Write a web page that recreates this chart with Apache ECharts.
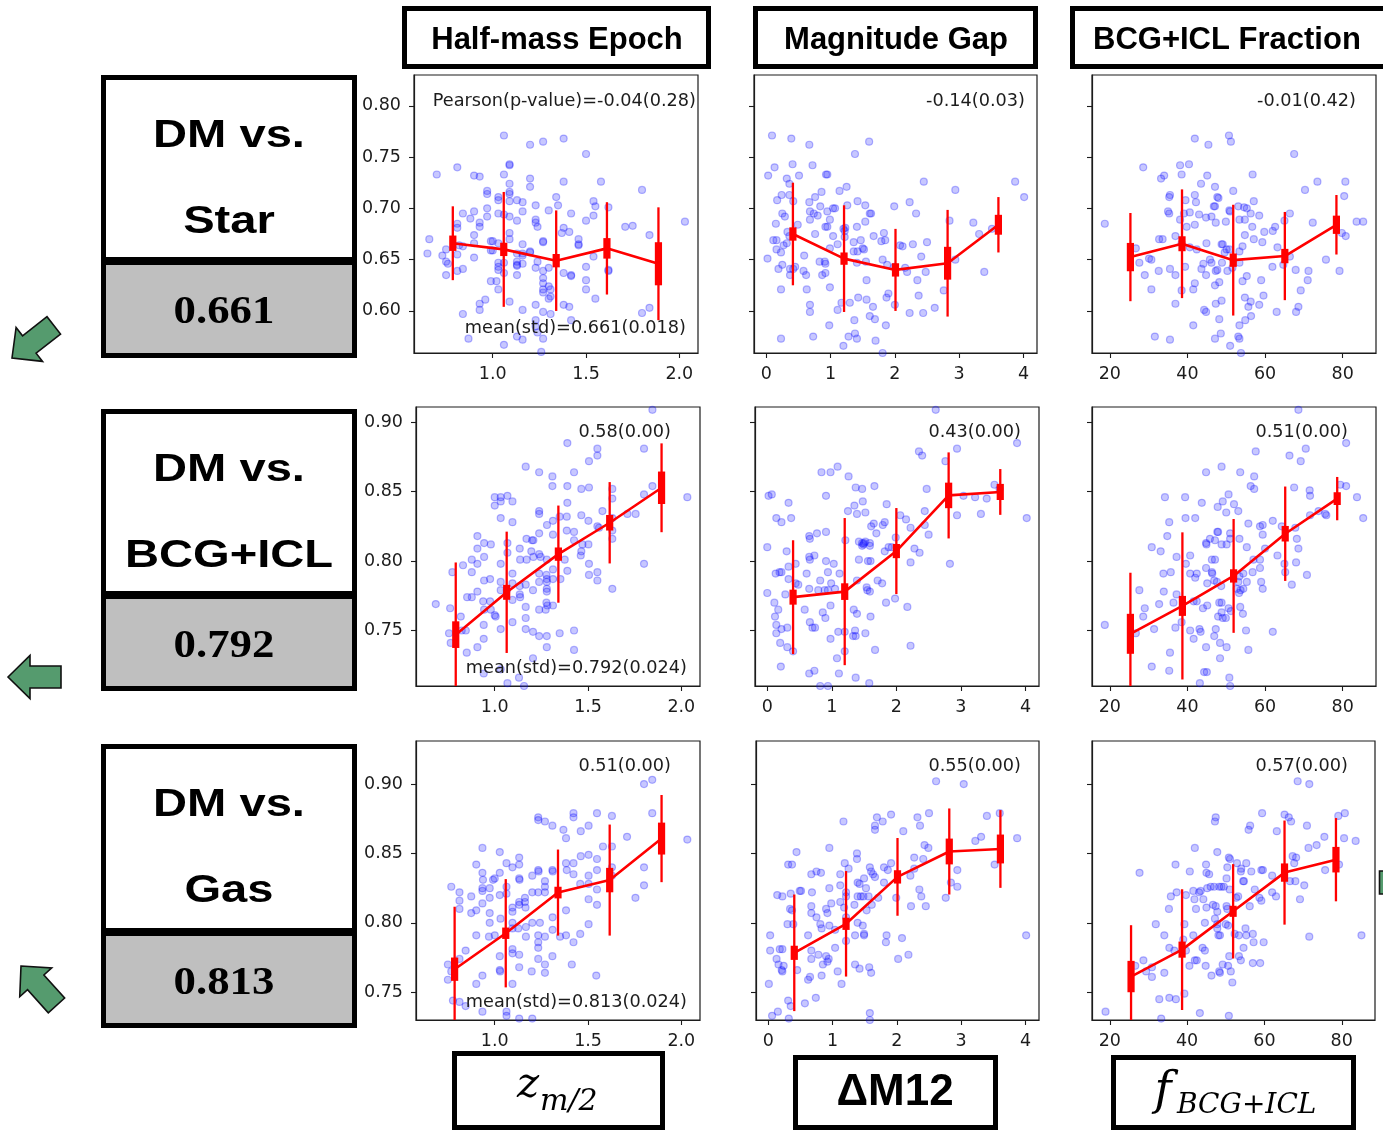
<!DOCTYPE html>
<html>
<head>
<meta charset="utf-8">
<script src="https://cdn.jsdelivr.net/npm/echarts@6/dist/echarts.min.js"></script>
<style>
html,body{margin:0;padding:0;background:#fff;}
#chart{width:1383px;height:1133px;}
</style>
</head>
<body>
<div id="chart"></div>
<script>
// ---------- scatter samples: [x, correlation] ----------
// DM vs. Star
const starZhalf = [[1.06,0.771],[1.20,0.762],[1.27,0.765],[1.38,0.768],[1.50,0.753],[0.70,0.733],[0.81,0.740],[0.90,0.732],[0.93,0.731],[1.06,0.733],[1.09,0.742],[1.09,0.743],[1.20,0.729],[1.20,0.721],[1.09,0.724],[0.97,0.717],[0.97,0.714],[1.03,0.711],[1.03,0.708],[1.09,0.716],[1.09,0.714],[1.13,0.708],[1.16,0.706],[1.09,0.707],[1.38,0.726],[1.58,0.726],[1.80,0.718],[1.23,0.703],[1.30,0.698],[1.34,0.711],[1.35,0.703],[1.54,0.707],[1.55,0.702],[1.62,0.701],[1.54,0.693],[1.42,0.695],[1.50,0.688],[2.03,0.687],[0.84,0.695],[0.90,0.697],[0.88,0.690],[0.97,0.700],[0.97,0.692],[1.03,0.695],[1.06,0.694],[1.09,0.692],[1.16,0.697],[1.13,0.688],[1.23,0.689],[1.23,0.686],[1.24,0.682],[1.27,0.668],[1.27,0.667],[1.38,0.681],[1.37,0.676],[1.41,0.677],[1.46,0.670],[1.46,0.664],[1.46,0.665],[1.71,0.682],[1.75,0.683],[1.84,0.674],[0.66,0.670],[0.73,0.654],[0.65,0.656],[0.75,0.660],[0.75,0.648],[0.76,0.646],[0.81,0.685],[0.81,0.681],[0.82,0.664],[0.81,0.655],[0.84,0.663],[0.90,0.674],[0.90,0.666],[0.90,0.652],[0.93,0.686],[0.93,0.682],[0.99,0.668],[1.00,0.668],[1.00,0.659],[0.99,0.659],[1.03,0.666],[1.03,0.647],[1.03,0.643],[1.03,0.640],[1.06,0.647],[1.06,0.637],[1.09,0.676],[1.09,0.670],[1.13,0.656],[1.13,0.648],[1.13,0.645],[1.13,0.644],[1.16,0.665],[1.16,0.656],[1.16,0.654],[1.16,0.646],[1.13,0.635],[1.20,0.658],[1.20,0.657],[1.23,0.642],[1.24,0.648],[1.27,0.639],[1.27,0.632],[1.27,0.627],[1.30,0.642],[1.30,0.624],[1.31,0.621],[1.31,0.614],[1.30,0.612],[1.27,0.621],[1.27,0.618],[1.38,0.637],[1.42,0.635],[1.42,0.634],[1.50,0.643],[1.50,0.630],[1.50,0.621],[1.54,0.653],[1.55,0.612],[1.62,0.640],[1.62,0.639],[0.75,0.635],[0.81,0.639],[0.84,0.641],[0.99,0.629],[0.96,0.611],[0.93,0.607],[0.93,0.601],[1.02,0.629],[1.03,0.621],[1.09,0.609],[1.16,0.601],[1.23,0.606],[1.27,0.599],[1.38,0.606],[1.41,0.604],[1.42,0.591],[1.80,0.598],[1.84,0.603],[0.84,0.597],[0.87,0.573],[1.06,0.567],[1.13,0.575],[1.16,0.572],[1.23,0.591],[1.23,0.585],[1.24,0.579],[1.27,0.573],[1.26,0.560],[1.31,0.597]];
const starDm12 = [[0.09,0.771],[0.39,0.768],[0.67,0.762],[1.60,0.765],[1.38,0.753],[0.13,0.740],[0.41,0.743],[0.72,0.742],[0.03,0.732],[0.32,0.729],[0.36,0.724],[0.51,0.732],[0.93,0.733],[0.95,0.733],[1.25,0.721],[1.14,0.717],[2.45,0.726],[2.94,0.718],[3.87,0.726],[4.01,0.711],[0.17,0.708],[0.24,0.713],[0.36,0.713],[0.42,0.707],[0.67,0.706],[0.76,0.711],[0.86,0.716],[0.25,0.695],[0.29,0.692],[0.15,0.685],[0.49,0.684],[0.68,0.697],[0.74,0.695],[0.80,0.693],[0.84,0.702],[0.68,0.689],[0.95,0.697],[1.04,0.700],[1.07,0.700],[0.99,0.689],[0.92,0.682],[0.95,0.682],[1.26,0.703],[1.42,0.707],[1.54,0.703],[1.61,0.695],[1.63,0.695],[1.54,0.687],[1.41,0.682],[1.23,0.681],[1.22,0.678],[1.99,0.702],[2.23,0.706],[2.33,0.695],[2.85,0.688],[3.22,0.686],[3.31,0.675],[0.02,0.651],[0.11,0.669],[0.16,0.669],[0.16,0.660],[0.23,0.657],[0.27,0.664],[0.32,0.666],[0.36,0.673],[0.33,0.677],[0.19,0.641],[0.25,0.645],[0.37,0.641],[0.42,0.641],[0.45,0.643],[0.37,0.635],[0.59,0.654],[0.76,0.675],[0.83,0.648],[0.91,0.648],[0.92,0.646],[0.87,0.635],[0.92,0.637],[0.58,0.639],[0.62,0.635],[0.99,0.661],[1.11,0.665],[1.04,0.673],[1.20,0.680],[1.22,0.672],[1.36,0.667],[1.36,0.658],[1.42,0.658],[1.41,0.647],[1.47,0.669],[1.50,0.661],[1.52,0.660],[1.55,0.648],[1.67,0.673],[1.79,0.668],[1.85,0.669],[1.83,0.676],[1.81,0.650],[1.88,0.645],[2.08,0.664],[2.12,0.663],[2.28,0.665],[1.99,0.643],[2.16,0.642],[2.19,0.638],[2.41,0.653],[2.50,0.667],[2.48,0.638],[2.35,0.630],[2.94,0.650],[3.39,0.638],[2.76,0.620],[3.51,0.680],[0.23,0.621],[0.63,0.621],[0.68,0.606],[0.68,0.599],[0.99,0.623],[1.11,0.601],[1.17,0.608],[1.30,0.608],[1.43,0.613],[1.56,0.611],[1.56,0.630],[1.66,0.604],[1.61,0.595],[1.69,0.592],[1.37,0.591],[1.87,0.613],[1.90,0.617],[2.00,0.606],[2.23,0.598],[2.44,0.598],[2.37,0.615],[2.62,0.603],[0.98,0.586],[0.73,0.575],[0.23,0.573],[1.28,0.575],[1.38,0.578],[1.41,0.573],[1.20,0.566],[1.70,0.571],[1.86,0.586],[1.81,0.559]];
const starFbcg = [[18.7,0.685],[41.9,0.768],[45.4,0.762],[50.7,0.771],[51.2,0.765],[67.5,0.753],[28.6,0.740],[38.1,0.742],[40.4,0.743],[38.5,0.733],[33.2,0.729],[34.0,0.732],[45.1,0.732],[56.8,0.733],[73.5,0.726],[80.7,0.726],[43.5,0.724],[47.1,0.721],[51.8,0.717],[35.5,0.713],[35.3,0.711],[41.9,0.713],[42.2,0.706],[39.5,0.708],[47.7,0.711],[48.0,0.710],[46.8,0.702],[47.1,0.702],[57.1,0.707],[50.8,0.698],[51.0,0.697],[53.1,0.702],[54.6,0.701],[55.3,0.700],[70.3,0.718],[80.4,0.712],[85.3,0.687],[83.6,0.687],[35.0,0.697],[35.3,0.695],[39.1,0.695],[40.6,0.696],[38.1,0.689],[43.0,0.694],[44.8,0.691],[39.8,0.682],[41.9,0.684],[46.2,0.692],[47.3,0.686],[49.9,0.687],[53.4,0.689],[54.8,0.689],[56.3,0.695],[56.7,0.682],[58.5,0.693],[54.8,0.674],[57.1,0.670],[59.3,0.667],[59.8,0.677],[62.0,0.678],[62.6,0.682],[65.0,0.688],[66.4,0.695],[72.3,0.686],[32.7,0.670],[33.6,0.670],[26.7,0.661],[27.6,0.647],[30.1,0.651],[30.7,0.650],[29.0,0.635],[30.7,0.621],[32.6,0.639],[35.5,0.641],[36.9,0.635],[36.9,0.673],[38.5,0.666],[39.4,0.643],[38.5,0.620],[36.9,0.607],[40.6,0.662],[42.4,0.660],[41.5,0.621],[41.9,0.627],[43.6,0.641],[44.1,0.646],[44.9,0.666],[44.8,0.635],[45.8,0.650],[46.2,0.647],[47.3,0.639],[47.7,0.640],[47.1,0.625],[48.2,0.628],[48.8,0.665],[49.1,0.665],[48.9,0.647],[49.6,0.657],[50.1,0.660],[50.8,0.660],[50.3,0.639],[51.6,0.642],[48.8,0.610],[47.3,0.607],[44.3,0.601],[44.8,0.599],[48.2,0.592],[41.5,0.586],[53.4,0.658],[54.2,0.663],[53.4,0.647],[55.3,0.634],[54.2,0.629],[54.8,0.613],[56.3,0.609],[55.7,0.604],[58.5,0.606],[56.4,0.595],[54.9,0.591],[53.4,0.586],[59.0,0.630],[59.6,0.615],[61.9,0.643],[63.2,0.662],[64.7,0.645],[66.4,0.653],[63.0,0.599],[67.9,0.640],[71.0,0.630],[71.2,0.639],[69.2,0.620],[68.6,0.604],[68.0,0.599],[75.7,0.650],[79.2,0.639],[79.8,0.676],[80.8,0.673],[31.6,0.575],[35.5,0.572],[47.1,0.573],[48.6,0.578],[51.0,0.566],[53.1,0.575],[53.4,0.573],[53.8,0.559]];
// DM vs. BCG+ICL
const bcgZhalf = [[1.845,0.909],[1.389,0.885],[1.55,0.881],[1.55,0.876],[1.505,0.872],[1.80,0.881],[1.166,0.868],[1.238,0.864],[1.309,0.861],[1.425,0.864],[1.309,0.854],[1.389,0.854],[1.464,0.852],[1.505,0.853],[1.845,0.854],[2.032,0.846],[1.0,0.846],[1.032,0.846],[1.068,0.847],[1.0,0.840],[1.032,0.843],[1.095,0.843],[1.80,0.848],[1.63,0.852],[1.63,0.845],[1.577,0.836],[1.63,0.831],[1.711,0.834],[1.755,0.834],[1.238,0.836],[1.238,0.834],[1.389,0.842],[1.386,0.832],[1.032,0.831],[1.095,0.828],[1.312,0.829],[1.348,0.832],[1.464,0.833],[1.502,0.829],[1.28,0.826],[1.55,0.825],[1.559,0.824],[1.63,0.822],[1.63,0.816],[0.907,0.818],[0.907,0.809],[0.943,0.813],[0.979,0.812],[1.068,0.813],[1.068,0.806],[1.134,0.809],[1.170,0.816],[1.20,0.815],[1.207,0.815],[1.238,0.820],[1.312,0.819],[1.386,0.822],[1.425,0.821],[1.425,0.815],[1.470,0.812],[1.502,0.812],[1.461,0.804],[1.464,0.807],[1.375,0.801],[1.389,0.793],[1.505,0.798],[1.505,0.790],[1.55,0.792],[1.55,0.786],[1.80,0.798],[1.63,0.780],[1.196,0.807],[1.207,0.803],[1.238,0.805],[1.246,0.803],[1.279,0.801],[1.136,0.801],[1.171,0.801],[0.877,0.801],[0.907,0.798],[0.943,0.803],[0.83,0.797],[0.773,0.792],[0.877,0.792],[0.943,0.786],[0.975,0.787],[1.032,0.798],[1.032,0.785],[1.032,0.779],[1.064,0.779],[1.095,0.791],[1.095,0.784],[1.134,0.782],[1.134,0.776],[1.136,0.774],[1.095,0.772],[1.166,0.783],[1.205,0.779],[1.238,0.791],[1.238,0.785],[1.277,0.790],[1.279,0.787],[1.279,0.785],[1.279,0.780],[1.279,0.778],[1.312,0.794],[1.312,0.787],[1.352,0.787],[1.238,0.765],[1.277,0.770],[1.282,0.768],[1.312,0.768],[1.273,0.765],[1.166,0.767],[1.095,0.756],[1.166,0.759],[1.166,0.751],[1.205,0.749],[1.238,0.746],[1.279,0.746],[1.279,0.738],[1.348,0.748],[1.425,0.750],[1.425,0.736],[1.032,0.751],[0.941,0.754],[0.941,0.744],[0.877,0.774],[0.907,0.778],[0.938,0.771],[0.975,0.771],[0.852,0.774],[0.943,0.765],[0.979,0.765],[1.0,0.761],[1.005,0.760],[0.684,0.769],[0.761,0.766],[0.818,0.760],[0.755,0.748],[0.764,0.741],[0.823,0.750],[0.845,0.750],[0.85,0.734],[0.907,0.738],[0.941,0.719],[1.068,0.712],[1.13,0.716],[1.157,0.710],[1.205,0.730],[1.032,0.722]];
const bcgDm12 = [[2.61,0.909],[3.87,0.885],[2.94,0.881],[2.35,0.879],[2.40,0.876],[2.76,0.872],[0.84,0.864],[0.98,0.864],[1.09,0.868],[1.26,0.861],[1.37,0.853],[1.47,0.852],[1.66,0.854],[2.47,0.852],[0.02,0.847],[0.07,0.848],[0.91,0.847],[0.33,0.842],[1.25,0.836],[1.35,0.840],[1.48,0.843],[1.39,0.834],[1.52,0.835],[1.85,0.841],[2.44,0.836],[3.04,0.847],[3.22,0.846],[3.40,0.845],[3.52,0.855],[3.60,0.852],[2.94,0.833],[3.31,0.834],[4.02,0.831],[0.14,0.831],[0.22,0.828],[0.37,0.831],[2.06,0.833],[2.15,0.830],[2.22,0.824],[2.44,0.826],[2.50,0.819],[1.61,0.825],[1.65,0.827],[1.69,0.820],[1.79,0.826],[1.82,0.828],[1.52,0.814],[1.59,0.811],[1.47,0.811],[1.49,0.812],[1.42,0.814],[0.91,0.821],[0.77,0.820],[0.65,0.818],[0.66,0.816],[0.73,0.804],[0.00,0.810],[0.30,0.807],[1.21,0.815],[1.47,0.813],[1.50,0.813],[1.59,0.813],[1.42,0.801],[1.56,0.800],[1.60,0.800],[1.82,0.807],[1.88,0.810],[1.93,0.810],[1.99,0.817],[2.28,0.809],[2.36,0.806],[2.22,0.799],[0.65,0.803],[0.66,0.801],[1.03,0.798],[0.91,0.800],[0.13,0.791],[0.19,0.792],[0.22,0.792],[0.33,0.796],[0.44,0.798],[0.61,0.791],[0.94,0.792],[1.12,0.791],[0.99,0.784],[0.82,0.786],[0.33,0.787],[0.44,0.784],[0.48,0.783],[0.28,0.776],[0.79,0.779],[0.89,0.779],[0.94,0.779],[1.05,0.780],[0.65,0.780],[1.39,0.786],[1.54,0.781],[1.55,0.779],[1.59,0.778],[1.71,0.786],[1.78,0.784],[1.84,0.770],[1.98,0.773],[2.17,0.767],[0.00,0.777],[0.11,0.770],[0.17,0.765],[0.12,0.760],[0.14,0.754],[0.22,0.751],[0.31,0.752],[0.14,0.748],[0.20,0.741],[0.31,0.738],[0.58,0.765],[0.66,0.756],[0.70,0.752],[0.74,0.752],[0.86,0.763],[0.90,0.759],[0.98,0.768],[1.10,0.749],[1.20,0.749],[0.98,0.744],[1.20,0.735],[1.34,0.765],[1.39,0.762],[1.36,0.750],[1.33,0.746],[1.37,0.746],[1.52,0.748],[1.60,0.760],[1.67,0.736],[2.22,0.739],[0.40,0.735],[0.21,0.724],[0.65,0.719],[0.73,0.721],[1.08,0.730],[1.11,0.719],[1.37,0.716],[1.58,0.712],[0.82,0.710],[0.94,0.710],[2.83,0.798]];
const bcgFbcg = [[68.6,0.909],[80.9,0.885],[70.5,0.881],[66.3,0.876],[69.2,0.872],[57.6,0.879],[44.8,0.864],[48.8,0.868],[53.6,0.864],[57.2,0.861],[56.3,0.854],[57.2,0.852],[67.5,0.853],[71.5,0.851],[71.6,0.847],[79.4,0.855],[80.9,0.854],[83.7,0.846],[85.3,0.831],[34.2,0.846],[39.4,0.846],[43.7,0.842],[50.6,0.848],[49.1,0.843],[47.8,0.839],[52.0,0.841],[50.0,0.835],[53.1,0.836],[35.3,0.828],[39.5,0.831],[42.0,0.831],[47.7,0.821],[47.9,0.821],[51.0,0.820],[55.7,0.827],[58.7,0.825],[59.4,0.826],[62.0,0.829],[64.3,0.825],[71.6,0.833],[73.8,0.836],[75.5,0.834],[75.8,0.833],[67.8,0.824],[34.8,0.818],[30.8,0.810],[33.1,0.807],[37.2,0.803],[40.7,0.804],[44.8,0.813],[45.8,0.816],[44.9,0.812],[47.1,0.815],[48.8,0.812],[50.1,0.812],[51.0,0.816],[53.4,0.816],[55.3,0.810],[59.4,0.819],[60.0,0.809],[57.0,0.801],[58.7,0.801],[63.2,0.804],[65.0,0.798],[65.2,0.792],[68.2,0.816],[68.6,0.809],[68.0,0.799],[70.8,0.790],[66.9,0.783],[33.8,0.791],[35.7,0.792],[39.6,0.798],[40.7,0.791],[42.0,0.788],[42.4,0.791],[44.8,0.795],[46.3,0.801],[47.1,0.801],[46.3,0.792],[46.4,0.791],[45.1,0.784],[46.9,0.786],[47.6,0.785],[48.7,0.782],[53.1,0.785],[53.4,0.789],[54.4,0.791],[55.3,0.785],[54.4,0.780],[53.7,0.779],[56.8,0.792],[58.7,0.795],[59.4,0.780],[59.0,0.785],[27.6,0.779],[29.0,0.766],[28.6,0.760],[31.4,0.751],[32.7,0.769],[33.9,0.778],[36.4,0.770],[37.2,0.776],[36.9,0.752],[35.5,0.734],[35.3,0.721],[30.8,0.724],[18.7,0.754],[26.7,0.748],[38.5,0.756],[40.7,0.750],[41.6,0.744],[41.6,0.771],[42.4,0.771],[44.0,0.766],[45.1,0.768],[43.1,0.751],[43.4,0.749],[44.8,0.738],[46.9,0.746],[47.3,0.751],[47.9,0.760],[48.4,0.741],[48.8,0.763],[49.1,0.759],[49.9,0.759],[48.2,0.770],[48.8,0.770],[50.1,0.738],[50.6,0.766],[51.2,0.764],[53.6,0.767],[54.3,0.762],[52.7,0.780],[53.3,0.777],[55.1,0.750],[55.7,0.736],[62.0,0.749],[48.4,0.730],[44.3,0.720],[45.0,0.720],[43.2,0.712],[50.8,0.716],[51.0,0.710],[55.3,0.709]];
// DM vs. Gas
const gasZhalf = [[1.80,0.900],[1.844,0.903],[1.844,0.879],[1.233,0.876],[1.233,0.874],[1.269,0.873],[1.309,0.870],[1.422,0.879],[1.422,0.876],[1.368,0.867],[1.382,0.861],[1.461,0.866],[1.503,0.870],[1.548,0.879],[1.628,0.877],[1.709,0.862],[2.032,0.860],[0.934,0.854],[1.027,0.851],[0.901,0.842],[0.934,0.836],[0.937,0.831],[0.991,0.831],[1.0,0.832],[1.027,0.836],[1.063,0.843],[1.095,0.840],[1.131,0.847],[1.131,0.842],[1.131,0.832],[1.133,0.831],[1.201,0.834],[1.233,0.838],[1.235,0.837],[1.269,0.830],[1.309,0.838],[1.311,0.837],[1.382,0.843],[1.386,0.838],[1.422,0.843],[1.422,0.835],[1.461,0.848],[1.503,0.849],[1.58,0.855],[1.548,0.846],[1.548,0.838],[1.628,0.855],[1.628,0.840],[1.628,0.834],[1.503,0.834],[1.503,0.828],[1.458,0.828],[1.548,0.824],[1.548,0.813],[1.503,0.817],[1.80,0.840],[1.80,0.827],[1.754,0.818],[0.767,0.826],[0.811,0.822],[0.811,0.816],[0.811,0.810],[0.874,0.819],[0.901,0.809],[0.901,0.791],[0.874,0.807],[0.934,0.825],[0.934,0.823],[0.934,0.814],[0.973,0.825],[0.973,0.818],[0.973,0.807],[0.973,0.800],[0.969,0.790],[1.027,0.820],[1.031,0.803],[1.0,0.791],[1.063,0.826],[1.063,0.821],[1.095,0.811],[1.095,0.808],[1.131,0.815],[1.131,0.813],[1.162,0.818],[1.162,0.815],[1.165,0.811],[1.201,0.822],[1.233,0.822],[1.201,0.800],[1.242,0.800],[1.167,0.797],[1.167,0.790],[1.095,0.800],[1.095,0.796],[1.126,0.796],[1.233,0.791],[1.233,0.786],[1.269,0.790],[1.269,0.826],[1.269,0.822],[1.31,0.804],[1.31,0.795],[1.35,0.790],[1.382,0.809],[1.382,0.791],[1.422,0.786],[1.458,0.792],[1.503,0.799],[1.413,0.770],[1.544,0.762],[1.309,0.776],[1.233,0.782],[1.233,0.774],[1.269,0.770],[1.269,0.764],[1.198,0.765],[1.131,0.777],[1.131,0.768],[1.095,0.781],[1.095,0.778],[1.027,0.776],[1.027,0.766],[1.029,0.765],[1.095,0.756],[0.934,0.762],[0.901,0.756],[0.844,0.780],[0.811,0.774],[0.749,0.770],[0.749,0.759],[0.767,0.765],[0.776,0.744],[0.811,0.743],[0.844,0.740],[0.934,0.736],[1.063,0.736],[1.063,0.733],[1.131,0.731],[1.201,0.731]];
const gasDm12 = [[2.61,0.902],[3.04,0.900],[2.50,0.879],[2.32,0.876],[2.36,0.870],[1.91,0.878],[1.69,0.876],[1.66,0.870],[1.66,0.867],[1.78,0.873],[1.17,0.873],[2.10,0.866],[3.40,0.877],[3.60,0.879],[3.31,0.862],[3.22,0.859],[3.87,0.861],[2.43,0.856],[2.49,0.854],[0.44,0.851],[0.95,0.854],[1.38,0.850],[1.38,0.846],[0.31,0.842],[0.37,0.842],[1.19,0.843],[1.25,0.839],[1.12,0.835],[0.75,0.837],[0.82,0.836],[0.67,0.835],[1.58,0.840],[1.60,0.837],[1.63,0.835],[1.49,0.832],[1.39,0.829],[1.42,0.828],[1.52,0.825],[1.66,0.833],[1.80,0.840],[1.86,0.838],[1.91,0.843],[1.80,0.829],[2.21,0.834],[2.27,0.839],[2.27,0.847],[2.41,0.846],[2.35,0.824],[2.38,0.819],[2.22,0.812],[2.45,0.812],[1.99,0.818],[2.76,0.818],[2.84,0.829],[2.94,0.826],[2.94,0.838],[3.52,0.842],[0.14,0.820],[0.22,0.819],[0.35,0.821],[0.49,0.823],[0.51,0.823],[0.68,0.822],[0.95,0.825],[1.12,0.827],[1.21,0.822],[1.21,0.819],[1.39,0.819],[1.44,0.819],[1.48,0.819],[1.56,0.819],[1.61,0.813],[1.53,0.809],[1.71,0.818],[0.34,0.810],[0.37,0.809],[0.67,0.812],[0.67,0.807],[0.90,0.810],[0.92,0.807],[0.98,0.814],[1.12,0.815],[1.18,0.811],[1.34,0.813],[0.30,0.799],[0.39,0.799],[0.75,0.804],[0.81,0.799],[0.83,0.796],[0.95,0.798],[1.04,0.795],[1.21,0.804],[1.39,0.800],[1.47,0.798],[1.49,0.792],[1.49,0.791],[1.35,0.791],[0.03,0.791],[0.03,0.780],[0.18,0.781],[0.22,0.781],[0.62,0.791],[0.67,0.780],[0.67,0.774],[0.78,0.777],[0.90,0.776],[0.94,0.774],[0.92,0.772],[0.85,0.770],[1.04,0.782],[1.21,0.787],[0.13,0.774],[0.16,0.770],[0.21,0.766],[0.22,0.765],[0.24,0.769],[0.45,0.766],[0.65,0.761],[0.62,0.759],[0.83,0.762],[1.08,0.765],[1.14,0.756],[1.35,0.770],[1.42,0.767],[1.57,0.768],[1.60,0.764],[1.84,0.791],[1.83,0.786],[2.08,0.789],[2.02,0.774],[2.18,0.777],[4.01,0.791],[0.01,0.756],[0.31,0.744],[0.35,0.740],[0.15,0.736],[0.06,0.733],[0.32,0.731],[0.57,0.742],[0.74,0.746],[1.58,0.735],[1.58,0.730]];
const gasFbcg = [[68.6,0.902],[71.6,0.900],[59.4,0.879],[65.2,0.878],[66.3,0.876],[66.9,0.873],[63.2,0.866],[56.3,0.870],[55.9,0.867],[47.4,0.876],[47.2,0.873],[71.0,0.870],[79.1,0.877],[80.8,0.879],[75.5,0.862],[73.5,0.856],[71.4,0.854],[80.6,0.861],[83.6,0.859],[42.0,0.854],[47.8,0.851],[50.8,0.847],[51.1,0.846],[52.9,0.843],[55.3,0.843],[27.7,0.836],[37.0,0.842],[40.7,0.837],[44.9,0.842],[45.0,0.836],[45.7,0.835],[50.4,0.840],[54.0,0.839],[53.9,0.837],[54.5,0.830],[54.7,0.830],[56.6,0.837],[59.2,0.838],[59.6,0.838],[62.0,0.834],[67.3,0.848],[68.2,0.847],[67.7,0.843],[68.0,0.830],[66.6,0.830],[70.3,0.827],[69.2,0.817],[75.7,0.838],[79.3,0.842],[41.6,0.823],[43.1,0.822],[43.5,0.823],[37.3,0.822],[35.8,0.819],[39.7,0.820],[45.2,0.825],[46.1,0.826],[47.0,0.826],[48.3,0.826],[48.9,0.826],[49.5,0.826],[50.2,0.832],[51.0,0.824],[52.7,0.818],[53.2,0.819],[57.5,0.824],[58.7,0.818],[62.0,0.822],[63.0,0.819],[59.2,0.816],[41.9,0.817],[42.3,0.810],[44.2,0.817],[45.0,0.811],[46.7,0.813],[47.4,0.812],[47.8,0.808],[50.2,0.812],[50.4,0.810],[35.3,0.810],[31.9,0.799],[34.1,0.791],[39.3,0.799],[44.6,0.800],[47.2,0.803],[47.8,0.799],[47.8,0.796],[48.1,0.791],[48.5,0.791],[50.0,0.799],[50.6,0.798],[52.3,0.792],[53.4,0.791],[55.1,0.796],[55.3,0.791],[57.0,0.792],[57.2,0.786],[59.8,0.786],[71.6,0.790],[85.1,0.791],[56.2,0.812],[41.6,0.791],[39.0,0.788],[39.7,0.780],[35.4,0.782],[36.7,0.780],[42.0,0.773],[42.5,0.773],[44.0,0.782],[44.6,0.780],[40.6,0.769],[44.8,0.769],[46.3,0.762],[48.3,0.765],[48.5,0.764],[49.2,0.770],[50.6,0.769],[51.3,0.765],[50.9,0.776],[53.4,0.776],[53.9,0.773],[54.6,0.782],[57.0,0.771],[58.9,0.771],[51.7,0.757],[26.6,0.769],[28.7,0.773],[29.4,0.765],[30.9,0.761],[30.9,0.768],[34.1,0.764],[32.8,0.745],[35.4,0.746],[37.1,0.745],[39.3,0.749],[33.3,0.731],[18.9,0.736],[43.3,0.735],[50.8,0.733]];

// ---------- binned statistics: [bin centre, mean, std, error of mean] ----------
const starZhalfBins = [[0.786,0.666,0.036,0.0075],[1.059,0.660,0.056,0.0065],[1.340,0.649,0.049,0.0065],[1.612,0.661,0.045,0.010],[1.888,0.646,0.055,0.021]];
const starDm12Bins = [[0.415,0.675,0.050,0.0065],[1.21,0.651,0.052,0.006],[2.01,0.640,0.040,0.0065],[2.82,0.6465,0.052,0.016],[3.61,0.684,0.027,0.0097]];
const starFbcgBins = [[25.3,0.6525,0.043,0.0138],[38.6,0.6655,0.053,0.0073],[51.8,0.6495,0.054,0.0065],[65.1,0.6535,0.043,0.007],[78.4,0.684,0.029,0.0089]];
const bcgZhalfBins = [[0.791,0.747,0.052,0.0096],[1.064,0.7775,0.0437,0.0054],[1.341,0.805,0.035,0.0048],[1.616,0.8276,0.0293,0.0056],[1.894,0.8528,0.032,0.0117]];
const bcgDm12Bins = [[0.40,0.774,0.041,0.0054],[1.20,0.778,0.053,0.006],[2.00,0.8072,0.031,0.0051],[2.81,0.8473,0.031,0.0092],[3.61,0.8498,0.0165,0.0058]];
const bcgFbcgBins = [[25.3,0.7476,0.044,0.0144],[38.7,0.7677,0.053,0.0072],[51.9,0.7893,0.041,0.0048],[65.2,0.8197,0.034,0.0056],[78.6,0.845,0.0156,0.0046]];
const gasZhalfBins = [[0.785,0.7666,0.045,0.0084],[1.059,0.7925,0.039,0.0041],[1.339,0.8218,0.031,0.0042],[1.616,0.8308,0.040,0.0088],[1.894,0.8607,0.0314,0.0115]];
const gasDm12Bins = [[0.405,0.7784,0.042,0.0051],[1.21,0.7993,0.038,0.0044],[2.01,0.8331,0.028,0.0048],[2.815,0.8514,0.031,0.0093],[3.61,0.8532,0.028,0.0104]];
const gasFbcgBins = [[25.5,0.7613,0.037,0.0113],[38.7,0.7807,0.0435,0.0058],[51.9,0.8083,0.034,0.004],[65.2,0.8362,0.0375,0.0066],[78.5,0.8455,0.030,0.0092]];

// ---------- tick values ----------
const zhalfTicks = [1.0, 1.5, 2.0];
const dm12Ticks = [0, 1, 2, 3, 4];
const fbcgTicks = [20, 40, 60, 80];
const starYTicks = [0.60, 0.65, 0.70, 0.75, 0.80];
const bcgYTicks = [0.75, 0.80, 0.85, 0.90];
const gasYTicks = [0.75, 0.80, 0.85, 0.90];

// ---------- labels ----------
const columnTitles = ['Half-mass Epoch', 'Magnitude Gap', 'BCG+ICL Fraction'];
const rowNames = ['Star', 'BCG+ICL', 'Gas'];
const rowMeans = ['0.661', '0.792', '0.813'];
const pearsonTexts = [
  ['Pearson(p-value)=-0.04(0.28)', '-0.14(0.03)', '-0.01(0.42)'],
  ['0.58(0.00)', '0.43(0.00)', '0.51(0.00)'],
  ['0.51(0.00)', '0.55(0.00)', '0.57(0.00)']
];
const meanStdTexts = ['mean(std)=0.661(0.018)', 'mean(std)=0.792(0.024)', 'mean(std)=0.813(0.024)'];

// ---------- layout ----------
const panelData = [[starZhalf, starDm12, starFbcg],[bcgZhalf, bcgDm12, bcgFbcg],[gasZhalf, gasDm12, gasFbcg]];
const panelBins = [[starZhalfBins, starDm12Bins, starFbcgBins],[bcgZhalfBins, bcgDm12Bins, bcgFbcgBins],[gasZhalfBins, gasDm12Bins, gasFbcgBins]];
const xTicks = [zhalfTicks, dm12Ticks, fbcgTicks];
const yTicks = [starYTicks, bcgYTicks, gasYTicks];
const xRange = [[0.578, 2.10], [-0.19, 4.21], [15.4, 88.6]];
const yRange = [[0.559, 0.830], [0.710, 0.911], [0.730, 0.931]];
const xFmt = [v => v.toFixed(1), v => String(v), v => String(v)];
const rowTop = [75, 407, 741];
const rowHeight = [278, 279, 279];
const colLeft = [[414, 754, 1092], [416, 755, 1092], [416, 756, 1092]];
const colWidth = [[284, 283, 284], [284, 284, 284], [284, 283, 283]];

const INK = '#1c1c1c';
const TICK_FONT = 'DejaVu Sans';
const RED = '#ff0000';

function renderErrorBar(params, api) {
  const cs = params.coordSys;
  const x = api.value(0), m = api.value(1), s = api.value(2), e = api.value(3);
  const px = api.coord([x, m])[0];
  const clampY = y => Math.max(cs.y, Math.min(cs.y + cs.height, y));
  const sTop = clampY(api.coord([x, m + s])[1]);
  const sBot = clampY(api.coord([x, m - s])[1]);
  const eTop = clampY(api.coord([x, m + e])[1]);
  const eBot = clampY(api.coord([x, m - e])[1]);
  return {
    type: 'group',
    children: [
      { type: 'line', shape: { x1: px, y1: sTop, x2: px, y2: sBot }, style: { stroke: RED, lineWidth: 2.3 } },
      { type: 'rect', shape: { x: px - 3.6, y: eTop, width: 7.2, height: eBot - eTop }, style: { fill: RED } }
    ]
  };
}

const grids = [], xAxes = [], yAxes = [], series = [], graphics = [];

for (let r = 0; r < 3; r++) {
  for (let c = 0; c < 3; c++) {
    const i = r * 3 + c;
    grids.push({
      left: colLeft[r][c], top: rowTop[r], width: colWidth[r][c], height: rowHeight[r],
      show: true, borderColor: INK, borderWidth: 1.2, backgroundColor: '#fff', containLabel: false
    });
    xAxes.push({
      type: 'value', gridIndex: i, min: xRange[c][0], max: xRange[c][1],
      axisLine: { show: true, onZero: false, lineStyle: { color: INK, width: 1.2 } },
      axisTick: { show: true, inside: false, length: 5, customValues: xTicks[c], lineStyle: { color: INK, width: 1.1 } },
      axisLabel: { show: true, customValues: xTicks[c], margin: 12, fontSize: 17.5, fontFamily: TICK_FONT, color: INK, formatter: xFmt[c] },
      splitLine: { show: false }
    });
    yAxes.push({
      type: 'value', gridIndex: i, min: yRange[r][0], max: yRange[r][1],
      axisLine: { show: true, onZero: false, lineStyle: { color: INK, width: 1.2 } },
      axisTick: { show: true, inside: false, length: 5, customValues: yTicks[r], lineStyle: { color: INK, width: 1.1 } },
      axisLabel: { show: c === 0, customValues: yTicks[r], margin: 13, fontSize: 17.5, fontFamily: TICK_FONT, color: INK, formatter: v => v.toFixed(2) },
      splitLine: { show: false }
    });
    series.push({
      type: 'scatter', xAxisIndex: i, yAxisIndex: i, data: panelData[r][c],
      symbol: 'circle', symbolSize: 7, silent: true, z: 2,
      itemStyle: { color: 'rgba(40,40,255,0.32)', borderColor: 'rgba(0,0,255,0.36)', borderWidth: 1.2 }
    });
    series.push({
      type: 'custom', xAxisIndex: i, yAxisIndex: i, data: panelBins[r][c],
      encode: { x: 0, y: 1 }, renderItem: renderErrorBar, silent: true, z: 3
    });
    series.push({
      type: 'line', xAxisIndex: i, yAxisIndex: i, data: panelBins[r][c].map(b => [b[0], b[1]]),
      showSymbol: false, symbol: 'none', silent: true, z: 4,
      lineStyle: { color: RED, width: 2.6 }
    });
  }
}

// ---------- annotation text inside panels ----------
const annoRight = [[696, 1025, 1356], [671, 1021, 1348], [671, 1021, 1348]];
const annoY = [101, 432, 766];
const meanRight = [686, 687, 687];
const meanY = [328, 668, 1002];
function txt(x, y, text, font, align, extra) {
  return Object.assign({
    type: 'text', x: x, y: y, silent: true, z: 100,
    style: { text: text, x: 0, y: 0, font: font, fill: INK, align: align, verticalAlign: 'middle', textAlign: align, textVerticalAlign: 'middle' }
  }, extra || {});
}
for (let r = 0; r < 3; r++) {
  for (let c = 0; c < 3; c++) {
    graphics.push(txt(annoRight[r][c], annoY[r], pearsonTexts[r][c], '17.7px "DejaVu Sans"', 'right'));
  }
  graphics.push(txt(meanRight[r], meanY[r], meanStdTexts[r], '17.7px "DejaVu Sans"', 'right'));
}

// ---------- column title boxes ----------
const titleBoxes = [[404.5, 304], [755.5, 280], [1072.5, 330]];
const titleTextX = [557, 896, 1093];
const titleAlign = ['center', 'center', 'left'];
titleBoxes.forEach((b, k) => {
  graphics.push({ type: 'rect', silent: true, z: 90, shape: { x: b[0], y: 8.5, width: b[1], height: 58 }, style: { fill: '#fff', stroke: '#000', lineWidth: 5 } });
  const t = txt(titleTextX[k], 40, columnTitles[k], 'bold 31px "Liberation Sans"', titleAlign[k]);
  t.style.fill = '#000';
  graphics.push(t);
});

// ---------- row label boxes ----------
const boxTop = [75, 409, 744];
const boxDiv = [261, 595, 932];
const boxBottom = [358, 691, 1028];
for (let r = 0; r < 3; r++) {
  graphics.push({ type: 'rect', silent: true, z: 90, shape: { x: 103.5, y: boxTop[r] + 2.5, width: 251, height: boxDiv[r] - 1.5 - (boxTop[r] + 2.5) }, style: { fill: '#fff', stroke: '#000', lineWidth: 5 } });
  graphics.push({ type: 'rect', silent: true, z: 90, shape: { x: 103.5, y: boxDiv[r] + 1.5, width: 251, height: boxBottom[r] - 2.5 - (boxDiv[r] + 1.5) }, style: { fill: '#bfbfbf', stroke: '#000', lineWidth: 5 } });
  const t1 = txt(229, boxTop[r] + 62, 'DM vs.', 'bold 38px "Liberation Sans"', 'center', { scaleX: 1.24 });
  const t2 = txt(229, boxTop[r] + 148, rowNames[r], 'bold 38px "Liberation Sans"', 'center', { scaleX: 1.24 });
  const t3 = txt(224, boxDiv[r] + 52, rowMeans[r], 'bold 40px "Liberation Serif"', 'center', { scaleX: 1.12 });
  [t1, t2, t3].forEach(t => { t.style.fill = '#000'; graphics.push(t); });
}

// ---------- arrows ----------
function arrowPoints(tipX, tipY, angleDeg, len, headLen, headHalf, shaftHalf) {
  const a = angleDeg * Math.PI / 180;
  const dx = Math.cos(a), dy = Math.sin(a), nx = -dy, ny = dx;
  const local = [[0, 0], [-headLen, headHalf], [-headLen, shaftHalf], [-len, shaftHalf], [-len, -shaftHalf], [-headLen, -shaftHalf], [-headLen, -headHalf]];
  return local.map(p => [tipX + p[0] * dx + p[1] * nx, tipY + p[0] * dy + p[1] * ny]);
}
const arrows = [[12, 358, 142], [8, 677, 180], [21, 966, -132]];
arrows.forEach(a => {
  graphics.push({ type: 'polygon', silent: true, z: 90, shape: { points: arrowPoints(a[0], a[1], a[2], 53, 22, 21.5, 11) }, style: { fill: '#559b6e', stroke: '#111', lineWidth: 1.6 } });
});
graphics.push({ type: 'rect', silent: true, z: 90, shape: { x: 1379.5, y: 871, width: 10, height: 23 }, style: { fill: '#559b6e', stroke: '#111', lineWidth: 1.6 } });

// ---------- variable label boxes ----------
graphics.push({ type: 'rect', silent: true, z: 90, shape: { x: 454.5, y: 1053.5, width: 208, height: 74 }, style: { fill: '#fff', stroke: '#000', lineWidth: 5 } });
graphics.push({ type: 'rect', silent: true, z: 90, shape: { x: 795.5, y: 1057.5, width: 200, height: 70 }, style: { fill: '#fff', stroke: '#000', lineWidth: 5 } });
graphics.push({ type: 'rect', silent: true, z: 90, shape: { x: 1113.5, y: 1057.5, width: 240, height: 70 }, style: { fill: '#fff', stroke: '#000', lineWidth: 5 } });
[
  txt(528, 1086, 'z', 'italic 42px "DejaVu Serif"', 'center'),
  txt(540, 1102, 'm/2', 'italic 30px "DejaVu Serif"', 'left'),
  txt(895, 1093, 'ΔM12', 'bold 44px "Liberation Sans"', 'center'),
  txt(1163, 1092, 'f', 'italic 46px "DejaVu Serif"', 'center'),
  txt(1177, 1106, 'BCG+ICL', 'italic 28px "DejaVu Serif"', 'left')
].forEach(t => { t.style.fill = '#000'; graphics.push(t); });

const chart = echarts.init(document.getElementById('chart'), null, { renderer: 'canvas' });
chart.setOption({
  animation: false,
  backgroundColor: '#fff',
  grid: grids,
  xAxis: xAxes,
  yAxis: yAxes,
  series: series,
  graphic: { elements: graphics }
});
</script>
</body>
</html>
